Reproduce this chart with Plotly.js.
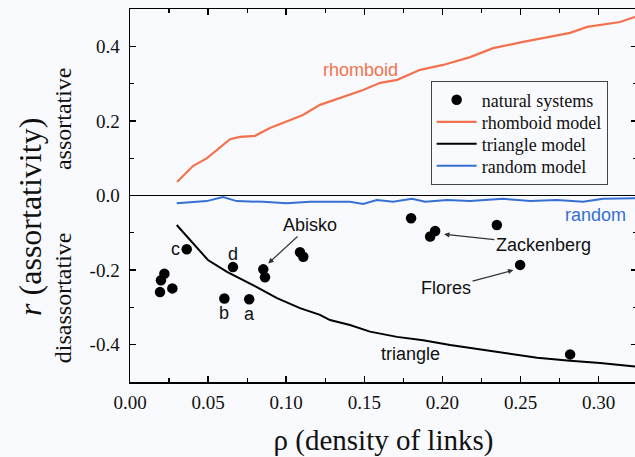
<!DOCTYPE html>
<html>
<head>
<meta charset="utf-8">
<script src="https://cdn.plot.ly/plotly-3.0.1.min.js"></script>
<style>
html,body{margin:0;padding:0;overflow:hidden;background:#f9fafd;}
#chart{width:640px;height:457px;}
</style>
</head>
<body>
<div id="chart"></div>
<script>
// natural systems (density, assortativity)
var natX = [0.0363, 0.0659, 0.0853, 0.0864, 0.1088, 0.1109, 0.0220, 0.0198, 0.0192, 0.0271, 0.0604, 0.0763, 0.1799, 0.1921, 0.1953, 0.2348, 0.2497, 0.2817];
var natY = [-0.144, -0.192, -0.198, -0.219, -0.152, -0.164, -0.210, -0.227, -0.259, -0.249, -0.276, -0.278, -0.061, -0.110, -0.095, -0.079, -0.186, -0.426];

// rhomboid model
var rhoX = [0.0301, 0.0403, 0.0493, 0.0640, 0.0704, 0.0800, 0.0896, 0.1005, 0.1107, 0.1216, 0.1280, 0.1492, 0.1601, 0.1710, 0.1857, 0.2004, 0.2177, 0.2324, 0.2516, 0.2689, 0.2817, 0.2926, 0.3009, 0.3137, 0.3246];
var rhoY = [0.036, 0.079, 0.100, 0.151, 0.157, 0.160, 0.181, 0.200, 0.216, 0.243, 0.252, 0.283, 0.302, 0.310, 0.337, 0.350, 0.371, 0.395, 0.412, 0.425, 0.436, 0.452, 0.457, 0.465, 0.481];

// triangle model
var triX = [0.0299, 0.0403, 0.0499, 0.0621, 0.0787, 0.0941, 0.1088, 0.1216, 0.1280, 0.1408, 0.1536, 0.1709, 0.1876, 0.2049, 0.2222, 0.2388, 0.2606, 0.2817, 0.3009, 0.3246];
var triY = [-0.079, -0.127, -0.173, -0.205, -0.240, -0.275, -0.302, -0.320, -0.334, -0.347, -0.365, -0.379, -0.388, -0.401, -0.412, -0.422, -0.435, -0.443, -0.449, -0.459];

// random model
var ranX = [0.0299, 0.0395, 0.0491, 0.0595, 0.0683, 0.0851, 0.1003, 0.1152, 0.1280, 0.1408, 0.1492, 0.1580, 0.1684, 0.1805, 0.1889, 0.2030, 0.2177, 0.2388, 0.2561, 0.2734, 0.2900, 0.3028, 0.3246];
var ranY = [-0.021, -0.017, -0.015, -0.004, -0.015, -0.017, -0.021, -0.017, -0.017, -0.017, -0.023, -0.012, -0.017, -0.009, -0.017, -0.012, -0.015, -0.009, -0.015, -0.012, -0.017, -0.009, -0.007];

// tick labels
var yTickVals = [-0.4, -0.2, 0.0, 0.2, 0.4];
var yTickText = ['-0.4', '-0.2', '0.0', '0.2', '0.4'];
var xTickVals = [0.00, 0.05, 0.10, 0.15, 0.20, 0.25, 0.30];
var xTickText = ['0.00', '0.05', '0.10', '0.15', '0.20', '0.25', '0.30'];

// plain text labels [text, x, y]
var labels = [
  ['c', 0.0288, -0.1434],
  ['d', 0.0657, -0.1568],
  ['b', 0.0602, -0.3158],
  ['a', 0.0768, -0.3177],
  ['triangle', 0.1793, -0.425],
  ['rhomboid', 0.1476, 0.3365],
  ['random', 0.2977, -0.0523]
];
// arrow labels [text, textX, textY, headX, headY]
var arrowLabels = [
  ['Abisko', 0.1152, -0.079, 0.0885, -0.182],
  ['Zackenberg', 0.2646, -0.1327, 0.2010, -0.104],
  ['Flores', 0.2023, -0.2488, 0.2454, -0.200]
];

var ORANGE = '#f4714e';
var BLUE = '#3570d2';
var SERIF = "'Liberation Serif', 'Times New Roman', serif";
var SANS = "'Liberation Sans', Arial, sans-serif";
var BG = '#f9fafd';

var traces = [
  {x: natX, y: natY, mode: 'markers', type: 'scatter', name: 'natural systems',
   marker: {color: '#000', size: 10.5}},
  {x: rhoX, y: rhoY, mode: 'lines', type: 'scatter', name: 'rhomboid model',
   line: {color: ORANGE, width: 2.2}},
  {x: triX, y: triY, mode: 'lines', type: 'scatter', name: 'triangle model',
   line: {color: '#000', width: 2}},
  {x: ranX, y: ranY, mode: 'lines', type: 'scatter', name: 'random model',
   line: {color: BLUE, width: 2}}
];

var annotations = [];
labels.forEach(function (l) {
  var col = '#111';
  if (l[0] === 'rhomboid') col = ORANGE;
  if (l[0] === 'random') col = BLUE;
  annotations.push({text: l[0], x: l[1], y: l[2], xref: 'x', yref: 'y', showarrow: false,
    xanchor: 'center', yanchor: 'middle',
    font: {family: SANS, size: 18, color: col}});
});
arrowLabels.forEach(function (l) {
  annotations.push({text: l[0], ax: l[1], ay: l[2], x: l[3], y: l[4], xref: 'x', yref: 'y',
    axref: 'x', ayref: 'y', showarrow: true, arrowhead: 2, arrowsize: 0.9, arrowwidth: 1.2,
    arrowcolor: '#333', standoff: 0,
    font: {family: SANS, size: 18, color: '#111'}});
});
annotations.push({text: 'assortative', xref: 'paper', yref: 'paper', x: -0.132, y: 0.705,
  xanchor: 'center', yanchor: 'middle',
  textangle: -90, showarrow: false, font: {family: SERIF, size: 24, color: '#111'}});
annotations.push({text: 'disassortative', xref: 'paper', yref: 'paper', x: -0.132, y: 0.225,
  xanchor: 'center', yanchor: 'middle',
  textangle: -90, showarrow: false, font: {family: SERIF, size: 24, color: '#111'}});
// y axis title, placed as in the reference (slightly below centre)
annotations.push({text: '<i>r</i> (assortativity)', xref: 'paper', yref: 'paper', x: -0.197, y: 0.443,
  xanchor: 'center', yanchor: 'middle',
  textangle: -90, showarrow: false, font: {family: SERIF, size: 32, color: '#111'}});

var layout = {
  width: 640, height: 457,
  margin: {l: 130, r: 3, t: 9, b: 75},
  paper_bgcolor: BG,
  plot_bgcolor: BG,
  showlegend: true,
  legend: {x: 0.593, y: 0.808, xanchor: 'left', yanchor: 'top',
    bgcolor: BG, bordercolor: '#444', borderwidth: 1, itemwidth: 40,
    font: {family: SERIF, size: 18, color: '#111'}, tracegroupgap: 0},
  xaxis: {
    range: [0, 0.3245], showgrid: false, zeroline: false,
    showline: true, linecolor: '#000', linewidth: 1.5, mirror: 'ticks',
    ticks: 'inside', ticklen: 6, tickwidth: 1.5, tickcolor: '#000',
    tickmode: 'array', tickvals: xTickVals, ticktext: xTickText, ticklabelstandoff: 3,
    tickfont: {family: SERIF, size: 19, color: '#111'},
    minor: {tickmode: 'linear', tick0: 0, dtick: 0.025, ticks: 'inside', ticklen: 4, tickwidth: 1.2, tickcolor: '#000'},
    title: {text: 'ρ (density of links)', font: {family: SERIF, size: 29, color: '#111'}, standoff: 19}
  },
  yaxis: {
    range: [-0.5, 0.5], showgrid: false,
    zeroline: true, zerolinecolor: '#000', zerolinewidth: 1.8,
    showline: true, linecolor: '#000', linewidth: 1.5, mirror: 'ticks',
    ticks: 'inside', ticklen: 6, tickwidth: 1.5, tickcolor: '#000',
    tickmode: 'array', tickvals: yTickVals, ticktext: yTickText, ticklabelstandoff: 5,
    tickfont: {family: SERIF, size: 19, color: '#111'},
    minor: {tickmode: 'linear', tick0: 0, dtick: 0.1, ticks: 'inside', ticklen: 4, tickwidth: 1.2, tickcolor: '#000'}
  },
  annotations: annotations
};

Plotly.newPlot('chart', traces, layout, {displayModeBar: false, staticPlot: true}).then(function (gd) {
  // tighten legend row spacing to match the reference (22 px per row)
  var leg = gd.querySelector('.legend');
  if (!leg) return;
  var items = leg.querySelectorAll('.traces');
  if (items.length < 2) return;
  function tr(el) {
    var m = /translate\(\s*([-\d.e]+)[ ,]+([-\d.e]+)\s*\)/.exec(el.getAttribute('transform') || '');
    return m ? [parseFloat(m[1]), parseFloat(m[2])] : null;
  }
  var p0 = tr(items[0]), p1 = tr(items[1]);
  if (!p0 || !p1) return;
  var step = p1[1] - p0[1];
  var want = 22;
  for (var i = 0; i < items.length; i++) {
    var p = tr(items[i]);
    items[i].setAttribute('transform', 'translate(' + p[0] + ',' + (p0[1] + i * want) + ')');
  }
  var bg = leg.querySelector('rect.bg');
  if (bg) {
    var h = parseFloat(bg.getAttribute('height'));
    bg.setAttribute('height', h - (items.length - 1) * (step - want));
  }
});
</script>
</body>
</html>
